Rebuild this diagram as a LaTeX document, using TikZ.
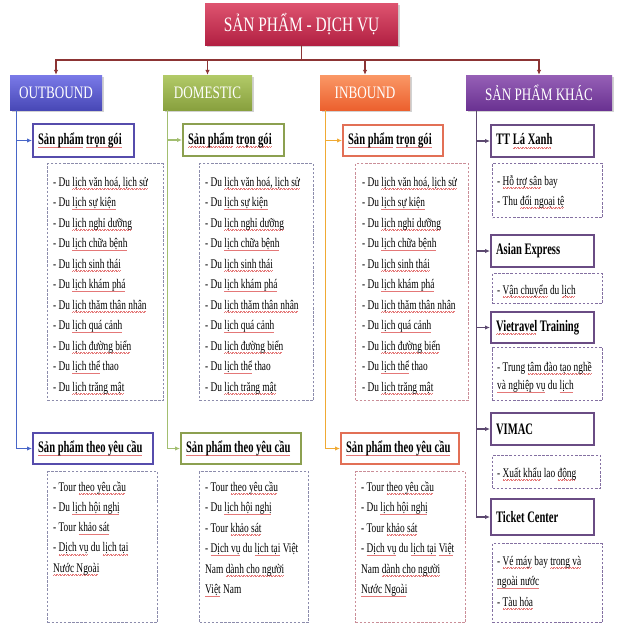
\documentclass[tikz,border=0pt]{standalone}
\usepackage{fontspec}
\newfontfamily\cnd[FakeStretch=0.75]{Liberation Serif}
\newfontfamily\cndl[FakeStretch=0.71]{Liberation Serif}
\newfontfamily\cndb[FakeStretch=0.66]{Liberation Serif Bold}
\usetikzlibrary{arrows.meta,calc,shadows}

\definecolor{topA}{RGB}{222,84,112}
\definecolor{topB}{RGB}{178,32,66}
\definecolor{outA}{RGB}{122,122,232}
\definecolor{outB}{RGB}{72,72,182}
\definecolor{domA}{RGB}{178,202,104}
\definecolor{domB}{RGB}{136,160,62}
\definecolor{inbA}{RGB}{250,152,102}
\definecolor{inbB}{RGB}{236,96,46}
\definecolor{khaA}{RGB}{150,96,182}
\definecolor{khaB}{RGB}{106,50,146}
\definecolor{conn}{RGB}{140,52,52}
\definecolor{outL}{RGB}{72,102,200}
\definecolor{domL}{RGB}{162,190,112}
\definecolor{inbL}{RGB}{240,170,52}
\definecolor{khaL}{RGB}{92,72,112}
\definecolor{outS}{RGB}{86,76,172}
\definecolor{domS}{RGB}{140,160,80}
\definecolor{inbS}{RGB}{226,112,86}
\definecolor{khaS}{RGB}{106,76,132}
\definecolor{outD}{RGB}{140,140,172}
\definecolor{inbD}{RGB}{202,142,152}
\definecolor{khaD}{RGB}{132,112,162}
\definecolor{wavy}{RGB}{228,120,120}

\newsavebox\sqbox
\newcommand\sq[1]{\sbox\sqbox{#1}\rlap{\color{wavy}\leaders\hbox{\rule[-3.4pt]{0.8pt}{0.6pt}\rule[-2.8pt]{0.8pt}{0.6pt}}\hskip\wd\sqbox}\usebox\sqbox}

\tikzset{
  topbox/.style={rectangle, inner sep=0pt, text=white, top color=topA, bottom color=topB,
    font=\cnd\fontsize{20.5}{24}\selectfont,
    drop shadow={opacity=0.35, shadow xshift=1.5pt, shadow yshift=-1.5pt}},
  catbox/.style={rectangle, minimum height=35pt, inner sep=0pt, text=white,
    font=\cnd\fontsize{17.5}{20}\selectfont,
    drop shadow={opacity=0.35, shadow xshift=1.5pt, shadow yshift=-1.5pt}},
  subbox/.style={draw, line width=2.2pt, fill=white, anchor=west, minimum height=32pt,
    inner xsep=5pt, inner ysep=0pt, align=flush left, font=\cndb\fontsize{16}{18}\selectfont},
  listbox/.style={draw, dash pattern=on 2.5pt off 1.6pt, line width=1.1pt, anchor=north west, inner sep=0pt},
  itemtxt/.style={font=\cndl\fontsize{13.2}{15}\selectfont, inner sep=0pt, anchor=base west},
  conline/.style={line width=1.1pt},
  tip/.style={-{Latex[length=5pt,width=4.5pt]}}
}

\newcommand\mklist[5]{%
  \foreach \t [count=\i] in {#5} {
    \node[itemtxt] (#1-\i) at ($(#1.north west)+(#2,{#3+#4*(\i-1)})$) {\t};
  }}

\begin{document}
\begin{tikzpicture}[x=1pt,y=-1pt]
\useasboundingbox (0,0) rectangle (624,630);
\fill[white] (0,0) rectangle (624,630);

% top
\node[topbox, minimum width=193pt, minimum height=42pt] (top) at (301.5,24) {SẢN PHẨM - DỊCH VỤ};

% categories
\node[catbox, top color=outA, bottom color=outB, minimum width=92pt] (out) at (56,92.5) {OUTBOUND};
\node[catbox, top color=domA, bottom color=domB, minimum width=89pt] (dom) at (207.5,92.5) {DOMESTIC};
\node[catbox, top color=inbA, bottom color=inbB, minimum width=90pt] (inb) at (365,92.5) {INBOUND};
\node[catbox, top color=khaA, bottom color=khaB, minimum width=146pt] (kha) at (539,92.5) {SẢN PHẨM KHÁC};

\coordinate (hj) at (top.south |- 0,60);
\draw[conn, conline] (top.south) -- (hj);
\foreach \n in {out,dom,inb,kha} \draw[conn, conline, tip] (hj) -| (\n.north);

% sub boxes
\node[subbox, draw=outS, text width=91pt, minimum height=33pt] (o1) at (32,140.5) {\sq{Sản phẩm} \sq{trọn gói}};
\node[subbox, draw=outS, text width=110pt, minimum height=31pt] (o2) at (32,448.5) {\sq{Sản phẩm theo yêu cầu}};
\node[subbox, draw=domS, text width=91pt] (d1) at (182,140) {\sq{Sản phẩm} \sq{trọn gói}};
\node[subbox, draw=domS, text width=110pt, minimum height=31pt] (d2) at (180,448.5) {\sq{Sản phẩm theo yêu cầu}};
\node[subbox, draw=inbS, text width=90pt, minimum height=31pt] (i1) at (342,140.5) {\sq{Sản phẩm} \sq{trọn gói}};
\node[subbox, draw=inbS, text width=108pt, minimum height=31pt] (i2) at (340,448.5) {\sq{Sản phẩm theo yêu cầu}};
\node[subbox, draw=khaS, text width=93pt] (k1) at (490,141) {TT \sq{Lá Xanh}};
\node[subbox, draw=khaS, text width=93pt] (k2) at (490,251) {Asian Express};
\node[subbox, draw=khaS, text width=93pt, minimum height=31pt] (k3) at (490,327.5) {\sq{Vietravel} Training};
\node[subbox, draw=khaS, text width=93pt] (k4) at (490,429) {VIMAC};
\node[subbox, draw=khaS, text width=93pt, minimum height=36pt] (k5) at (490,517) {Ticket Center};

% branch lines
\coordinate (ov) at ($(out.south west)+(7,0)$);
\coordinate (dv) at ($(dom.south west)+(5,0)$);
\coordinate (iv) at ($(inb.south west)+(6,0)$);
\coordinate (kv) at ($(kha.south west)+(11,0)$);
\foreach \s in {o1,o2} \draw[outL, conline, tip] (ov) |- (\s.west);
\foreach \s in {d1,d2} \draw[domL, conline, tip] (dv) |- (\s.west);
\foreach \s in {i1,i2} \draw[inbL, conline, tip] (iv) |- (\s.west);
\foreach \s in {k1,k2,k3,k4,k5} \draw[khaL, conline, tip] (kv) |- (\s.west);

% lists
\node[listbox, draw=outD, minimum width=116pt, minimum height=237pt] (ol1) at (47,163) {};
\mklist{ol1}{6}{23}{20.5}{{- Du \sq{lịch văn hoá, lịch sử}},- Du \sq{lịch sự kiện},- Du \sq{lịch nghỉ dưỡng},- Du \sq{lịch chữa bệnh},- Du \sq{lịch sinh thái},- Du \sq{lịch khám phá},- Du \sq{lịch thăm thân nhân},- Du \sq{lịch quá cảnh},- Du \sq{lịch đường biển},- Du \sq{lịch thể} thao,- Du \sq{lịch trăng mật}}
\node[listbox, draw=outD, minimum width=110pt, minimum height=151pt] (ol2) at (47,471) {};
\mklist{ol2}{6}{20}{20.3}{- Tour \sq{theo yêu cầu},- Du \sq{lịch hội nghị},- Tour \sq{khảo sát},- \sq{Dịch vụ} du \sq{lịch tại},\sq{Nước Ngoài}}

\node[listbox, draw=outD, minimum width=114pt, minimum height=237pt] (dl1) at (199,163) {};
\mklist{dl1}{6}{23}{20.5}{{- Du \sq{lịch văn hoá, lịch sử}},- Du \sq{lịch sự kiện},- Du \sq{lịch nghỉ dưỡng},- Du \sq{lịch chữa bệnh},- Du \sq{lịch sinh thái},- Du \sq{lịch khám phá},- Du \sq{lịch thăm thân nhân},- Du \sq{lịch quá cảnh},- Du \sq{lịch đường biển},- Du \sq{lịch thể} thao,- Du \sq{lịch trăng mật}}
\node[listbox, draw=outD, minimum width=109pt, minimum height=151pt] (dl2) at (199,471) {};
\mklist{dl2}{6}{20}{20.5}{- Tour \sq{theo yêu cầu},- Du \sq{lịch hội nghị},- Tour \sq{khảo sát},- \sq{Dịch vụ} du \sq{lịch tại} Việt,Nam \sq{dành cho người},\sq{Việt} Nam}

\node[listbox, draw=inbD, minimum width=113pt, minimum height=237pt] (il1) at (355,163) {};
\mklist{il1}{7}{23}{20.5}{{- Du \sq{lịch văn hoá, lịch sử}},- Du \sq{lịch sự kiện},- Du \sq{lịch nghỉ dưỡng},- Du \sq{lịch chữa bệnh},- Du \sq{lịch sinh thái},- Du \sq{lịch khám phá},- Du \sq{lịch thăm thân nhân},- Du \sq{lịch quá cảnh},- Du \sq{lịch đường biển},- Du \sq{lịch thể} thao,- Du \sq{lịch trăng mật}}
\node[listbox, draw=inbD, minimum width=110pt, minimum height=151pt] (il2) at (355,471) {};
\mklist{il2}{6}{20}{20.5}{- Tour \sq{theo yêu cầu},- Du \sq{lịch hội nghị},- Tour \sq{khảo sát},- \sq{Dịch vụ} du \sq{lịch tại} \sq{Việt},Nam \sq{dành cho người},\sq{Nước Ngoài}}

\node[listbox, draw=khaD, minimum width=110pt, minimum height=54pt] (kl1) at (492,163) {};
\mklist{kl1}{5}{22}{20}{- \sq{Hỗ trợ sân} bay,- Thu \sq{đổi ngoại tệ}}
\node[listbox, draw=khaD, minimum width=110pt, minimum height=30pt] (kl2) at (492,273) {};
\mklist{kl2}{5}{21}{20}{- \sq{Vận chuyển} du \sq{lịch}}
\node[listbox, draw=khaD, minimum width=110pt, minimum height=53pt] (kl3) at (492,347) {};
\mklist{kl3}{5}{24}{18.5}{- Trung \sq{tâm đào tạo nghề},\sq{và nghiệp vụ} du \sq{lịch}}
\node[listbox, draw=khaD, minimum width=108pt, minimum height=33pt] (kl4) at (492,455) {};
\mklist{kl4}{5}{22}{20}{- \sq{Xuất khẩu} lao \sq{động}}
\node[listbox, draw=khaD, minimum width=110pt, minimum height=79pt] (kl5) at (492,543) {};
\mklist{kl5}{5}{22}{20.5}{- \sq{Vé máy} bay \sq{trong và},\sq{ngoài nước},- \sq{Tàu hỏa}}
\end{tikzpicture}
\end{document}
